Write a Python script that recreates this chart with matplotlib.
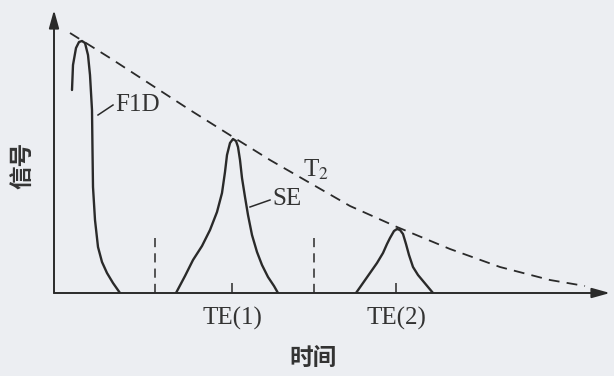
import matplotlib
matplotlib.use("Agg")
import matplotlib.pyplot as plt

plt.rcParams["mathtext.fontset"] = "stix"

BG = "#eceef2"
INK = "#2a2a2a"

# FID after the 90 degree pulse
fid_t = [1.8, 1.9, 2.2, 2.5, 2.8, 3.1, 3.4, 3.6, 3.8, 3.85, 3.9, 4.1, 4.4, 4.8, 5.3, 5.9, 6.6]
fid_s = [20.3, 22.8, 24.5, 25.1, 25.2, 25.0, 23.8, 21.8, 18.3, 14.3, 10.6, 7.3, 4.6, 3.1, 2.0, 1.0, 0.0]

# first spin echo, centred on TE(1)
se1_t = [12.2, 13.1, 13.9, 14.8, 15.6, 16.3, 16.8, 17.1, 17.3, 17.6, 17.9, 18.2,
         18.4, 18.6, 18.8, 19.1, 19.4, 19.8, 20.3, 20.8, 21.4, 22.0, 22.4]
se1_s = [0.0, 1.7, 3.3, 4.7, 6.3, 8.1, 10.0, 12.1, 13.8, 15.0, 15.4, 15.2,
         14.6, 13.3, 11.5, 9.6, 7.8, 5.8, 4.1, 2.8, 1.6, 0.7, 0.0]

# second spin echo, centred on TE(2)
se2_t = [30.2, 30.9, 31.6, 32.3, 32.9, 33.3, 33.6, 34.0, 34.3, 34.6, 34.9,
         35.2, 35.5, 35.9, 36.4, 36.9, 37.4, 37.9]
se2_s = [0.0, 1.0, 2.0, 3.0, 4.0, 4.9, 5.5, 6.2, 6.4, 6.3, 5.9,
         4.9, 3.8, 2.6, 1.8, 1.2, 0.6, 0.0]

# T2 decay envelope through the echo maxima
env_t = [1.6, 5.6, 9.6, 13.6, 17.9, 21.6, 25.6, 29.6, 34.3, 39.6, 44.6, 49.6, 53.1]
env_s = [26.0, 23.5, 20.9, 18.3, 15.6, 13.3, 11.0, 8.7, 6.6, 4.4, 2.6, 1.3, 0.7]

# 180 degree pulses (dashed markers) and echo times
pulse_t = [10.1, 26.0]
pulse_h = [5.7, 5.8]
te_t = [17.8, 34.2]
te_labels = ["TE(1)", "TE(2)"]

fig = plt.figure(figsize=(6.14, 3.76), dpi=100, facecolor=BG)
ax = fig.add_axes([54 / 614, 83 / 376, 556 / 614, 283 / 376], facecolor=BG)
ax.set_xlim(0, 55.6)
ax.set_ylim(0, 28.3)
for sp in ax.spines.values():
    sp.set_visible(False)

# axes drawn as arrows
arr = dict(arrowstyle="-|>,head_length=0.9,head_width=0.25", color=INK, lw=1.4,
           shrinkA=0, shrinkB=0, mutation_scale=12)
ax.annotate("", xy=(1, 0), xytext=(0, 0), xycoords="axes fraction", arrowprops=arr)
ax.annotate("", xy=(0, 1), xytext=(0, 0), xycoords="axes fraction", arrowprops=arr)

curve = dict(color=INK, lw=1.7, solid_joinstyle="round", solid_capstyle="round")
ax.plot(fid_t, fid_s, **curve)
ax.plot(se1_t, se1_s, **curve)
ax.plot(se2_t, se2_s, **curve)
ax.plot(env_t, env_s, color=INK, lw=1.3, dashes=(6, 4))

ax.vlines(pulse_t, 0, pulse_h, color=INK, lw=1.1, linestyles=(0, (6, 4)))

ax.set_yticks([])
ax.set_xticks(te_t, te_labels, family="Liberation Serif", fontsize=18, color="#333333")
ax.tick_params(axis="x", direction="in", length=7, width=1.1, color=INK, pad=10)

# curve labels with leader lines
serif = dict(family="Liberation Serif", fontsize=18, color="#333333", va="center")
ax.plot([4.4, 5.9], [17.8, 18.8], color=INK, lw=1.1)
ax.text(6.1, 18.8, "F1D", ha="left", **serif)
ax.plot([19.6, 21.6], [8.6, 9.3], color=INK, lw=1.1)
ax.text(21.8, 9.4, "SE", ha="left", **serif)
ax.text(24.9, 12.3, r"T$_2$", ha="left", **serif)

cjk = dict(family=["Noto Sans CJK SC", "DejaVu Sans"], fontsize=17, color="#333333",
           fontweight="bold")
fig.text(313 / 614, 1 - 358 / 376, "时间", ha="center", va="center", **cjk)
fig.text(23 / 614, 1 - 165 / 376, "信号", ha="center", va="center", rotation=90, **cjk)

fig.savefig("out.png", dpi=100, facecolor=BG)
